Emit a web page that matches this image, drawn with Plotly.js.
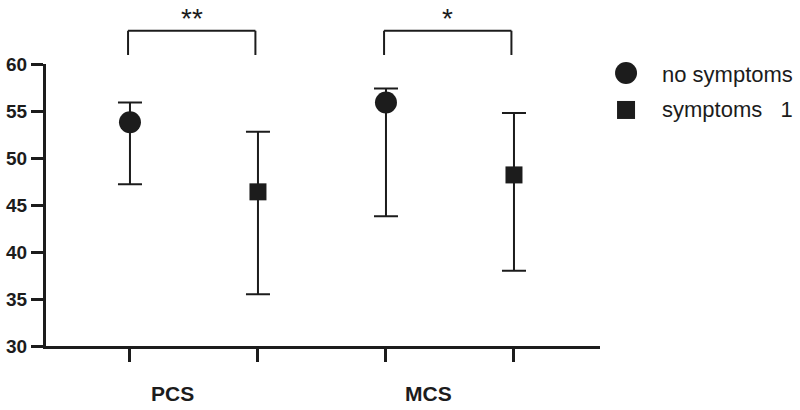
<!DOCTYPE html>
<html>
<head>
<meta charset="utf-8">
<script src="https://cdn.plot.ly/plotly-3.0.1.min.js"></script>
<style>
html,body{margin:0;padding:0;background:#fff;}
#chart{width:800px;height:410px;}
</style>
</head>
<body>
<div id="chart"></div>
<script>
// ---- data ----
var groups = ['PCS', 'MCS'];
var seriesNames = ['no symptoms', 'symptoms\u00a0\u00a0\u00a01'];
var noSymMean  = [53.8, 55.9];
var noSymUpper = [55.9, 57.4];
var noSymLower = [47.2, 43.8];
var symMean  = [46.4, 48.2];
var symUpper = [52.8, 54.8];
var symLower = [35.5, 38.0];
var significance = ['**', '*'];
var yTicks = [30, 35, 40, 45, 50, 55, 60];

var ink = '#1c1c1c';
var FONT = 'Liberation Sans, Arial, sans-serif';

function pos(i, s) { return i * 2 + s; }
function diff(a, b) { return a.map(function (v, i) { return v - b[i]; }); }

var xNo = groups.map(function (g, i) { return pos(i, 0); });
var xSym = groups.map(function (g, i) { return pos(i, 1); });

var traces = [
  {
    type: 'scatter', mode: 'markers', name: seriesNames[0],
    x: xNo, y: noSymMean,
    marker: {symbol: 'circle', size: 22, color: ink},
    error_y: {type: 'data', symmetric: false,
      array: diff(noSymUpper, noSymMean), arrayminus: diff(noSymMean, noSymLower),
      color: ink, thickness: 2, width: 12},
    showlegend: false, cliponaxis: false
  },
  {
    type: 'scatter', mode: 'markers', name: seriesNames[1],
    x: xSym, y: symMean,
    marker: {symbol: 'square', size: 17, color: ink},
    error_y: {type: 'data', symmetric: false,
      array: diff(symUpper, symMean), arrayminus: diff(symMean, symLower),
      color: ink, thickness: 2, width: 12},
    showlegend: false, cliponaxis: false
  }
];

var shapes = [];
var annotations = [];

// significance brackets
groups.forEach(function (g, i) {
  var x0 = pos(i, 0) - 0.015, x1 = pos(i, 1) - 0.02;
  shapes.push({type: 'line', xref: 'x', yref: 'paper', x0: x0, x1: x1, y0: 1.118, y1: 1.118,
    line: {color: ink, width: 2}});
  shapes.push({type: 'line', xref: 'x', yref: 'paper', x0: x0, x1: x0, y0: 1.032, y1: 1.118,
    line: {color: ink, width: 2}});
  shapes.push({type: 'line', xref: 'x', yref: 'paper', x0: x1, x1: x1, y0: 1.032, y1: 1.118,
    line: {color: ink, width: 2}});
  annotations.push({text: significance[i], xref: 'x', yref: 'paper',
    x: (x0 + x1) / 2, y: 1.224, xanchor: 'center', yanchor: 'top', showarrow: false,
    font: {family: FONT, size: 28, color: ink}});
  // group label
  annotations.push({text: g, xref: 'x', yref: 'paper',
    x: pos(i, 0) + 0.33, y: -0.167, xanchor: 'center', yanchor: 'middle', showarrow: false,
    font: {family: FONT, size: 21, color: ink, weight: 'bold'}});
});

// custom legend
shapes.push({type: 'circle', xref: 'paper', yref: 'paper', xsizemode: 'pixel', ysizemode: 'pixel',
  xanchor: 1.047, yanchor: 0.968, x0: -11, x1: 11, y0: -11, y1: 11,
  fillcolor: ink, line: {width: 0}});
shapes.push({type: 'rect', xref: 'paper', yref: 'paper', xsizemode: 'pixel', ysizemode: 'pixel',
  xanchor: 1.047, yanchor: 0.837, x0: -9, x1: 9, y0: -9, y1: 9,
  fillcolor: ink, line: {width: 0}});
annotations.push({text: seriesNames[0], xref: 'paper', yref: 'paper', x: 1.108, y: 0.961,
  xanchor: 'left', yanchor: 'middle', showarrow: false,
  font: {family: FONT, size: 22, color: ink}});
annotations.push({text: seriesNames[1], xref: 'paper', yref: 'paper', x: 1.108, y: 0.839,
  xanchor: 'left', yanchor: 'middle', showarrow: false,
  font: {family: FONT, size: 22, color: ink}});

var layout = {
  width: 800, height: 410,
  margin: {l: 46, r: 200, t: 64, b: 64, pad: 0},
  paper_bgcolor: '#fff', plot_bgcolor: '#fff',
  showlegend: false,
  xaxis: {
    range: [-0.656, 3.672], showgrid: false, zeroline: false,
    showline: true, linecolor: ink, linewidth: 3,
    tickmode: 'array', tickvals: [0, 1, 2, 3], ticktext: ['', '', '', ''],
    ticks: 'outside', ticklen: 13, tickwidth: 3, tickcolor: ink,
    fixedrange: true
  },
  yaxis: {
    range: [30, 60], showgrid: false, zeroline: false,
    showline: true, linecolor: ink, linewidth: 3,
    tickmode: 'array', tickvals: yTicks,
    ticks: 'outside', ticklen: 12, tickwidth: 3, tickcolor: ink,
    tickfont: {family: FONT, size: 19, color: ink, weight: 'bold'},
    ticklabelstandoff: 0,
    fixedrange: true
  },
  shapes: shapes,
  annotations: annotations
};

Plotly.newPlot('chart', traces, layout, {displayModeBar: false, staticPlot: true});
</script>
</body>
</html>
